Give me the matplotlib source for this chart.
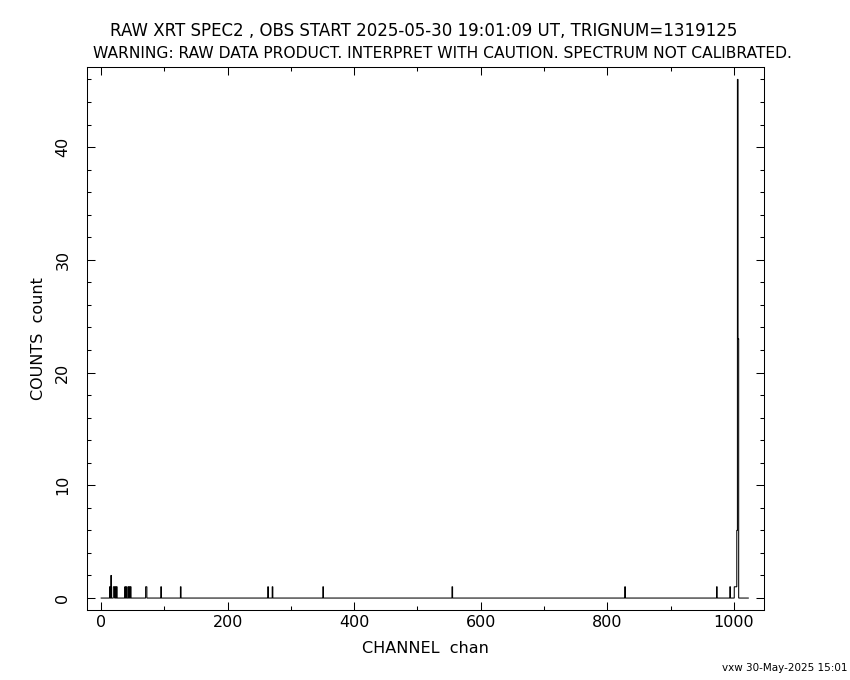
import numpy as np
import matplotlib
matplotlib.use("Agg")
import matplotlib.pyplot as plt
from matplotlib.ticker import MultipleLocator

plt.rcParams['font.family'] = ['DejaVu Sans']

# Non-zero channels and their counts (all other channels 0..1023 are 0)
peak_channels = [14, 16, 20, 21, 23, 25, 38, 40, 43, 45, 47, 71, 72, 95, 126,
                 264, 271, 351, 555, 828, 973, 994, 1001, 1002, 1003, 1004,
                 1005, 1006, 1007]
peak_counts = [1, 2, 1, 1, 1, 1, 1, 1, 1, 1, 1, 1, 1, 1, 1,
               1, 1, 1, 1, 1, 1, 1, 1, 1, 1, 1,
               6, 46, 23]
n_channels = 1024

title1 = "RAW XRT SPEC2 , OBS START 2025-05-30 19:01:09 UT, TRIGNUM=1319125"
title2 = "WARNING: RAW DATA PRODUCT. INTERPRET WITH CAUTION. SPECTRUM NOT CALIBRATED."
xlabel = "CHANNEL  chan"
ylabel = "COUNTS  count"
footer = "vxw 30-May-2025 15:01"

counts = np.zeros(n_channels)
for c, v in zip(peak_channels, peak_counts):
    counts[c] = v
edges = np.arange(n_channels + 1) - 0.5

fig = plt.figure(figsize=(8.5, 6.8), dpi=100)
ax = fig.add_axes([87/850, 70/680, (764-87)/850, (610-67)/680])
ax.stairs(counts, edges, color='black', lw=0.75, baseline=None)

ax.set_xlim(-22.1, 1047.5)
ax.set_ylim(-1.06, 47.1)

ax.xaxis.set_major_locator(MultipleLocator(200))
ax.xaxis.set_minor_locator(MultipleLocator(100))
ax.yaxis.set_major_locator(MultipleLocator(10))
ax.yaxis.set_minor_locator(MultipleLocator(2))
ax.tick_params(which='both', direction='in', top=True, right=True,
               color='black', width=0.75)
ax.tick_params(which='major', length=5.5, labelsize=11.5)
ax.tick_params(which='minor', length=2.8)
ax.tick_params(axis='y', which='major', pad=12)
for lab in ax.get_yticklabels():
    lab.set_rotation(90)
    lab.set_va('center')
for s in ax.spines.values():
    s.set_linewidth(0.75)

ax.set_xlabel(xlabel, fontsize=11.5, labelpad=8)
ax.set_ylabel(ylabel, fontsize=11.5, labelpad=6.5)

fig.text(424/850, 1 - 31/680, title1, ha='center', va='center', fontsize=12)
fig.text(442/850, 1 - 53/680, title2, ha='center', va='center', fontsize=11.2)
fig.text(848/850, 1 - 668/680, footer, ha='right', va='center', fontsize=7.5)

fig.savefig("out.png", dpi=100, facecolor='white')
